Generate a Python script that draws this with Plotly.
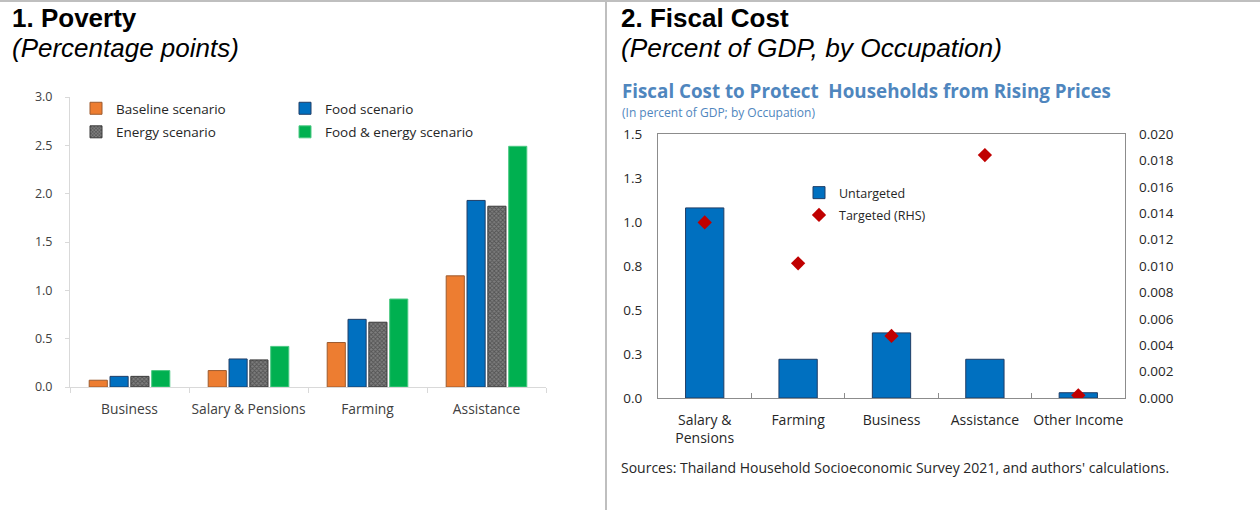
import plotly.graph_objects as go

# ---- Panel 1: poverty impact (percentage points) ----
poverty_categories = ["Business", "Salary & Pensions", "Farming", "Assistance"]
baseline_scenario = [0.07, 0.17, 0.46, 1.15]
food_scenario = [0.11, 0.29, 0.70, 1.93]
energy_scenario = [0.11, 0.28, 0.67, 1.87]
food_energy_scenario = [0.17, 0.42, 0.91, 2.49]

# ---- Panel 2: fiscal cost (percent of GDP, by occupation) ----
occupation_categories = ["Salary &<br>Pensions", "Farming", "Business", "Assistance", "Other Income"]
untargeted_cost = [1.08, 0.22, 0.37, 0.22, 0.03]
targeted_cost_rhs = [0.0133, 0.0102, 0.0047, 0.0184, 0.0002]

W, H = 1260, 510
CHART_FONT = "Open Sans, Noto Sans, sans-serif"
HEAD_FONT = "Liberation Sans, Arial, sans-serif"
TEXT_DARK = "#262626"
TICK_GREY = "#404040"
TITLE_BLUE = "#4F86BE"


def px_x(x):
    return x / W


def px_y(y):
    return 1 - y / H


fig = go.Figure()

# Grouped bars of the poverty panel
bar_specs = [
    ("Baseline scenario", baseline_scenario, "#ED7D31", "#9C5A2E", "legend", None),
    ("Food scenario", food_scenario, "#0070C0", "#1F3D66", "legend2", None),
    ("Energy scenario", energy_scenario, "#666666", "#3A3A3A", "legend", "x"),
    ("Food & energy scenario", food_energy_scenario, "#00B050", "#4CC983", "legend2", None),
]
for name, values, color, edge, leg, pattern in bar_specs:
    marker = dict(color=color, line=dict(color=edge, width=1))
    if pattern:
        marker["pattern"] = dict(shape=pattern, fgcolor="#2A2A2A", bgcolor="#7E7E7E",
                                 size=3, solidity=0.5)
    fig.add_trace(go.Bar(
        name=name, x=poverty_categories, y=values, marker=marker,
        xaxis="x", yaxis="y", legend=leg, legendgroup=name,
    ))

# Fiscal cost panel: untargeted bars (LHS) and targeted diamonds (RHS)
fig.add_trace(go.Bar(
    name="Untargeted", x=occupation_categories, y=untargeted_cost, width=0.41,
    marker=dict(color="#0070C0", line=dict(color="#1F3D66", width=1)),
    xaxis="x2", yaxis="y2", legend="legend3", legendgroup="u",
))
fig.add_trace(go.Scatter(
    name="Targeted (RHS)", x=occupation_categories, y=targeted_cost_rhs, mode="markers",
    marker=dict(symbol="diamond", size=11, color="#C00000"),
    xaxis="x2", yaxis="y3", legend="legend3", legendgroup="t",
))

legend_common = dict(
    bgcolor="rgba(0,0,0,0)", font=dict(family=CHART_FONT, size=13.5, color=TEXT_DARK),
    traceorder="grouped", tracegroupgap=3, xanchor="left", yanchor="top",
    itemclick=False, itemdoubleclick=False,
)

axis_common = dict(showgrid=False, zeroline=False, fixedrange=True, automargin=False)

fig.update_layout(
    width=W, height=H, margin=dict(l=0, r=0, t=0, b=0, autoexpand=False),
    paper_bgcolor="white", plot_bgcolor="white",
    barmode="group", bargap=0.30, bargroupgap=0.13,
    font=dict(family=CHART_FONT, color=TICK_GREY),
    showlegend=True,
    legend=dict(x=px_x(76), y=px_y(93), **legend_common),
    legend2=dict(x=px_x(285), y=px_y(93), **legend_common),
    legend3=dict(x=px_x(799), y=px_y(178),
                 **{**legend_common, "font": dict(family=CHART_FONT, size=12.5, color=TEXT_DARK),
                    "tracegroupgap": 3}),
    xaxis=dict(
        domain=[px_x(70), px_x(546)], anchor="y",
        showline=True, linecolor="#D9D9D9", linewidth=1,
        ticks="outside", tickson="boundaries", ticklen=5, tickcolor="#D9D9D9",
        tickfont=dict(size=13.8, color=TICK_GREY), ticklabelstandoff=9, tickangle=0,
        **axis_common,
    ),
    yaxis=dict(
        domain=[px_y(387), px_y(97)], anchor="x", range=[0, 3], dtick=0.5, tickformat=".1f",
        showline=True, linecolor="#D9D9D9", linewidth=1,
        ticks="outside", ticklen=4, tickcolor="#D9D9D9",
        tickfont=dict(size=12.5, color=TICK_GREY), ticklabelstandoff=10,
        **axis_common,
    ),
    xaxis2=dict(
        domain=[px_x(658), px_x(1125)], anchor="y2",
        showline=True, mirror=True, linecolor="#8C8C8C", linewidth=1,
        ticks="inside", tickson="boundaries", ticklen=5, tickcolor="#8C8C8C",
        tickfont=dict(size=14, color=TEXT_DARK), ticklabelstandoff=9, tickangle=0,
        **axis_common,
    ),
    yaxis2=dict(
        domain=[px_y(398), px_y(134)], anchor="x2", range=[0, 1.5], dtick=0.25, tickformat=".1f",
        showline=True, mirror=True, linecolor="#8C8C8C", linewidth=1, ticks="",
        tickfont=dict(size=13.5, color=TEXT_DARK), ticklabelstandoff=12,
        **axis_common,
    ),
    yaxis3=dict(
        overlaying="y2", side="right", anchor="x2", range=[0, 0.02], dtick=0.002, tickformat=".3f",
        showline=False, ticks="",
        tickfont=dict(size=13.5, color=TEXT_DARK), ticklabelstandoff=13,
        **axis_common,
    ),
)

# Panel frame: top rule and the divider between the two panels
fig.add_shape(type="line", xref="paper", yref="paper", x0=0, x1=1, y0=px_y(1), y1=px_y(1),
              line=dict(color="#BFBFBF", width=2))
fig.add_shape(type="line", xref="paper", yref="paper", x0=px_x(606), x1=px_x(606), y0=0, y1=px_y(1),
              line=dict(color="#BFBFBF", width=2))

# Panel headings and notes
texts = [
    (10, 18, "<b>1. Poverty</b>", HEAD_FONT, 26, "black"),
    (10, 48, "<i>(Percentage points)</i>", HEAD_FONT, 26, "black"),
    (619, 18, "<b>2. Fiscal Cost</b>", HEAD_FONT, 26, "black"),
    (619, 48, "<i>(Percent of GDP, by Occupation)</i>", HEAD_FONT, 26.3, "black"),
    (620, 91, "<b>Fiscal Cost to Protect  Households from Rising Prices</b>", CHART_FONT, 18.8, TITLE_BLUE),
    (620, 112, "(In percent of GDP; by Occupation)", CHART_FONT, 12, TITLE_BLUE),
    (619, 467, "Sources: Thailand Household Socioeconomic Survey 2021, and authors' calculations.",
     CHART_FONT, 14, TEXT_DARK),
]
for x, y, text, family, size, color in texts:
    fig.add_annotation(x=px_x(x), y=px_y(y), xref="paper", yref="paper", xanchor="left",
                       yanchor="middle", showarrow=False, text=text,
                       font=dict(family=family, size=size, color=color))

fig.write_html("out.html")
